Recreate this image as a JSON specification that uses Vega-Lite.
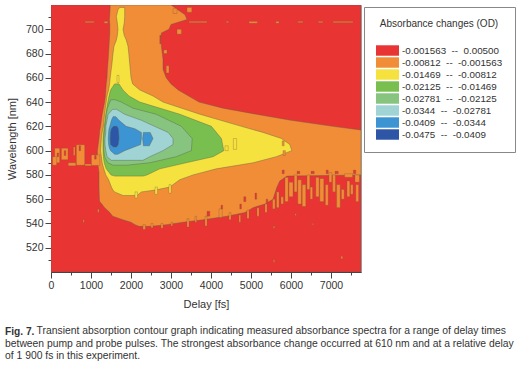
{
"$schema":"https://vega.github.io/schema/vega-lite/v6.json",
"width":310,"height":267,
"autosize":{"type":"none"},
"padding":{"left":51,"top":5,"right":160,"bottom":94},
"background":"white",
"title":{"text":"Fig. 7.","anchor":"start","frame":"group","orient":"bottom","dx":-46,"offset":17,"font":"Liberation Sans","fontSize":10.2,"fontWeight":"bold","color":"#333",
"subtitle":["\u200b\u00a0\u00a0\u00a0\u00a0\u00a0\u00a0\u00a0\u00a0\u00a0\u00a0\u00a0Transient absorption contour graph indicating measured absorbance spectra for a range of delay times","between pump and probe pulses. The strongest absorbance change occurred at 610 nm and at a relative delay","of 1 900 fs in this experiment."],
"subtitleFont":"Liberation Sans","subtitleFontSize":10.35,"subtitleColor":"#333","subtitlePadding":-10.5,"subtitleLineHeight":12.6},
"datasets":{"classes":[
{"k":1,"range":"-0.001563\u00a0\u00a0--\u00a0\u00a00.00500"},
{"k":2,"range":"-0.00812\u00a0\u00a0--\u00a0\u00a0-0.001563"},
{"k":3,"range":"-0.01469\u00a0\u00a0--\u00a0\u00a0-0.00812"},
{"k":4,"range":"-0.02125\u00a0\u00a0--\u00a0\u00a0-0.01469"},
{"k":5,"range":"-0.02781\u00a0\u00a0--\u00a0\u00a0-0.02125"},
{"k":6,"range":"-0.0344\u00a0\u00a0--\u00a0\u00a0-0.02781"},
{"k":7,"range":"-0.0409\u00a0\u00a0--\u00a0\u00a0-0.0344"},
{"k":8,"range":"-0.0475\u00a0\u00a0--\u00a0\u00a0-0.0409"}]},
"encoding":{
"color":{"field":"range","type":"nominal","scale":{"domain":["-0.001563\u00a0\u00a0--\u00a0\u00a00.00500","-0.00812\u00a0\u00a0--\u00a0\u00a0-0.001563","-0.01469\u00a0\u00a0--\u00a0\u00a0-0.00812","-0.02125\u00a0\u00a0--\u00a0\u00a0-0.01469","-0.02781\u00a0\u00a0--\u00a0\u00a0-0.02125","-0.0344\u00a0\u00a0--\u00a0\u00a0-0.02781","-0.0409\u00a0\u00a0--\u00a0\u00a0-0.0344","-0.0475\u00a0\u00a0--\u00a0\u00a0-0.0409"],"range":["#e93434","#f18d36","#f5e23f","#79bf4f","#86c47f","#9fd3d4","#3c95d2","#2e56a6"]},
"legend":{"orient":"none","legendX":313,"legendY":2,"title":"Absorbance changes (OD)","titleFont":"Liberation Sans","titleFontSize":10,"titleFontWeight":"normal","titleColor":"#333","titlePadding":16,"titleAnchor":"middle","labelFont":"Liberation Sans","labelFontSize":9.8,"labelColor":"#333","labelLimit":200,"labelOffset":15,"symbolType":"M-1,-0.95H3.18V0.95H-1Z","symbolSize":121,"symbolStrokeWidth":0,"rowPadding":1,"fillColor":"white","strokeColor":"#888","padding":12,"symbolOpacity":1}}
},
"resolve":{"axis":{"x":"independent","y":"independent"}},
"layer":[
{"data":{"values":[
{"k":1,"p":"bg","w":500,"a":0,"b":7750},{"k":1,"p":"bg","w":720,"a":0,"b":7750},
{"k":2,"p":"m","w":720,"a":1480,"b":3000},{"k":2,"p":"m","w":712,"a":1470,"b":3350},{"k":2,"p":"m","w":708,"a":1460,"b":3400},{"k":2,"p":"m","w":704,"a":1470,"b":3000},{"k":2,"p":"m","w":700,"a":1470,"b":2950},{"k":2,"p":"m","w":697,"a":1470,"b":2760},{"k":2,"p":"m","w":686,"a":1450,"b":2760},{"k":2,"p":"m","w":675,"a":1430,"b":2800},{"k":2,"p":"m","w":667,"a":1410,"b":2800},{"k":2,"p":"m","w":660,"a":1400,"b":2880},{"k":2,"p":"m","w":655,"a":1380,"b":3000},{"k":2,"p":"m","w":650,"a":1370,"b":3180},{"k":2,"p":"m","w":645,"a":1360,"b":3440},{"k":2,"p":"m","w":640,"a":1340,"b":3700},{"k":2,"p":"m","w":635,"a":1310,"b":4300},{"k":2,"p":"m","w":630,"a":1280,"b":5130},{"k":2,"p":"m","w":625,"a":1260,"b":6000},{"k":2,"p":"m","w":620,"a":1240,"b":7050},{"k":2,"p":"m","w":617,"a":1220,"b":7750},{"k":2,"p":"m","w":610,"a":1200,"b":7750},{"k":2,"p":"m","w":600,"a":1160,"b":7750},{"k":2,"p":"m","w":590,"a":1160,"b":7750},{"k":2,"p":"m","w":587,"a":1180,"b":7750},{"k":2,"p":"m","w":582,"a":1200,"b":7750},{"k":2,"p":"m","w":580,"a":1200,"b":7750},{"k":2,"p":"m","w":579,"a":1200,"b":5900},{"k":2,"p":"m","w":575,"a":1200,"b":5720},{"k":2,"p":"m","w":570,"a":1200,"b":5650},{"k":2,"p":"m","w":565,"a":1205,"b":5600},{"k":2,"p":"m","w":560,"a":1210,"b":5550},{"k":2,"p":"m","w":558,"a":1217,"b":5450},{"k":2,"p":"m","w":556,"a":1270,"b":5350},{"k":2,"p":"m","w":553,"a":1342,"b":5050},{"k":2,"p":"m","w":549,"a":1470,"b":4850},{"k":2,"p":"m","w":546,"a":1542,"b":4400},{"k":2,"p":"m","w":543,"a":1796,"b":3800},{"k":2,"p":"m","w":541,"a":2000,"b":3300},{"k":2,"p":"m","w":539,"a":2100,"b":2890},{"k":2,"p":"m","w":537.6,"a":2200,"b":2500},
{"k":3,"p":"m","w":718,"a":1720,"b":1840},{"k":3,"p":"m","w":716,"a":1675,"b":1842},{"k":3,"p":"m","w":710.6,"a":1634,"b":1842},{"k":3,"p":"m","w":705,"a":1660,"b":1830},{"k":3,"p":"m","w":700,"a":1675,"b":1800},{"k":3,"p":"m","w":695,"a":1660,"b":1830},{"k":3,"p":"m","w":691,"a":1634,"b":1883},{"k":3,"p":"m","w":686,"a":1575,"b":1925},{"k":3,"p":"m","w":680,"a":1550,"b":1945},{"k":3,"p":"m","w":672,"a":1525,"b":1967},{"k":3,"p":"m","w":660,"a":1480,"b":2000},{"k":3,"p":"m","w":655,"a":1465,"b":2040},{"k":3,"p":"m","w":650,"a":1440,"b":2220},{"k":3,"p":"m","w":645,"a":1400,"b":2550},{"k":3,"p":"m","w":640,"a":1380,"b":2800},{"k":3,"p":"m","w":630,"a":1340,"b":3720},{"k":3,"p":"m","w":620,"a":1310,"b":4760},{"k":3,"p":"m","w":615,"a":1280,"b":5300},{"k":3,"p":"m","w":610,"a":1260,"b":5760},{"k":3,"p":"m","w":605,"a":1250,"b":5970},{"k":3,"p":"m","w":600,"a":1240,"b":6020},{"k":3,"p":"m","w":595,"a":1260,"b":5630},{"k":3,"p":"m","w":590,"a":1280,"b":5050},{"k":3,"p":"m","w":585,"a":1320,"b":4130},{"k":3,"p":"m","w":580,"a":1370,"b":3550},{"k":3,"p":"m","w":576,"a":1440,"b":3217},{"k":3,"p":"m","w":570,"a":1510,"b":2970},{"k":3,"p":"m","w":567.5,"a":1550,"b":2600},{"k":3,"p":"m","w":566,"a":1590,"b":2259},{"k":3,"p":"m","w":563,"a":1800,"b":2150},
{"k":4,"p":"m","w":655,"a":1590,"b":1700},{"k":4,"p":"m","w":650,"a":1490,"b":1800},{"k":4,"p":"m","w":645,"a":1450,"b":1950},{"k":4,"p":"m","w":640,"a":1420,"b":2220},{"k":4,"p":"m","w":630,"a":1370,"b":3220},{"k":4,"p":"m","w":620,"a":1330,"b":4010},{"k":4,"p":"m","w":610,"a":1300,"b":4260},{"k":4,"p":"m","w":600,"a":1300,"b":4320},{"k":4,"p":"m","w":595,"a":1310,"b":4050},{"k":4,"p":"m","w":590,"a":1330,"b":3380},{"k":4,"p":"m","w":585,"a":1380,"b":2720},{"k":4,"p":"m","w":580,"a":1500,"b":2400},{"k":4,"p":"m","w":579,"a":1600,"b":2300},
{"k":5,"p":"m","w":642,"a":1500,"b":1600},{"k":5,"p":"m","w":640,"a":1470,"b":1760},{"k":5,"p":"m","w":635,"a":1410,"b":2050},{"k":5,"p":"m","w":630,"a":1380,"b":2630},{"k":5,"p":"m","w":620,"a":1350,"b":3260},{"k":5,"p":"m","w":610,"a":1320,"b":3530},{"k":5,"p":"m","w":600,"a":1320,"b":3510},{"k":5,"p":"m","w":595,"a":1340,"b":3130},{"k":5,"p":"m","w":590,"a":1420,"b":2470},{"k":5,"p":"m","w":588,"a":1550,"b":1900},
{"k":6,"p":"m","w":634,"a":1540,"b":1640},{"k":6,"p":"m","w":630,"a":1430,"b":1840},{"k":6,"p":"m","w":625,"a":1400,"b":2260},{"k":6,"p":"m","w":620,"a":1370,"b":2590},{"k":6,"p":"m","w":615,"a":1370,"b":2930},{"k":6,"p":"m","w":610,"a":1350,"b":3050},{"k":6,"p":"m","w":605,"a":1350,"b":3050},{"k":6,"p":"m","w":600,"a":1370,"b":2800},{"k":6,"p":"m","w":595,"a":1400,"b":2470},{"k":6,"p":"m","w":592,"a":1510,"b":2300},
{"k":7,"p":"m","w":628,"a":1550,"b":1620},{"k":7,"p":"m","w":625,"a":1510,"b":1700},{"k":7,"p":"m","w":620,"a":1470,"b":1880},{"k":7,"p":"m","w":618,"a":1450,"b":2100},{"k":7,"p":"m","w":615,"a":1440,"b":2260},{"k":7,"p":"m","w":610,"a":1430,"b":2260},{"k":7,"p":"m","w":605,"a":1440,"b":2240},{"k":7,"p":"m","w":602,"a":1460,"b":2000},{"k":7,"p":"m","w":600,"a":1490,"b":1840},{"k":7,"p":"m","w":597,"a":1590,"b":1670},
{"k":7,"p":"b","w":615,"a":2310,"b":2480},{"k":7,"p":"b","w":610,"a":2290,"b":2550},{"k":7,"p":"b","w":604,"a":2310,"b":2460},
{"k":8,"p":"m","w":620,"a":1560,"b":1650},{"k":8,"p":"m","w":618,"a":1510,"b":1680},{"k":8,"p":"m","w":615,"a":1490,"b":1690},{"k":8,"p":"m","w":610,"a":1480,"b":1700},{"k":8,"p":"m","w":605,"a":1490,"b":1680},{"k":8,"p":"m","w":603,"a":1560,"b":1640}
]},
"transform":[{"lookup":"k","from":{"data":{"name":"classes"},"key":"k","fields":["range"]}}],
"mark":{"type":"area","orient":"horizontal","stroke":"#5a5a4a","strokeWidth":0.4,"clip":true},
"encoding":{
"y":{"field":"w","type":"quantitative","scale":{"domain":[500,720],"nice":false},"axis":{"orient":"left","title":"Wavelength [nm]","titleFont":"Liberation Sans","titleFontSize":11,"titleFontWeight":"normal","titleColor":"#333","titlePadding":8,"labelFont":"Liberation Sans","labelFontSize":10.5,"labelColor":"#333","grid":false,"values":[520,540,560,580,600,620,640,660,680,700],"tickColor":"#444","domainColor":"#444","tickSize":6}},
"x":{"field":"a","type":"quantitative","scale":{"domain":[0,7750],"nice":false},"axis":{"orient":"bottom","title":"Delay [fs]","titleFont":"Liberation Sans","titleFontSize":11,"titleFontWeight":"normal","titleColor":"#333","titlePadding":8,"labelFont":"Liberation Sans","labelFontSize":10.5,"labelColor":"#333","labelFlush":false,"grid":false,"values":[0,1000,2000,3000,4000,5000,6000,7000],"format":"d","tickColor":"#444","domainColor":"#444","tickSize":6}},
"x2":{"field":"b"},
"detail":{"field":"p"}
}},
{"data":{"values":[
{"k":2,"a":93,"b":218,"w":602,"w2":590},{"k":2,"a":260,"b":426,"w":602,"w2":592.5},{"k":2,"a":40,"b":140,"w":595,"w2":588},{"k":2,"a":634,"b":843,"w":604.8,"w2":588},{"k":2,"a":430,"b":620,"w":590,"w2":587.5},{"k":2,"a":1010,"b":1218,"w":596.5,"w2":587.8},{"k":2,"a":850,"b":1010,"w":589,"w2":587.5},{"k":2,"a":560,"b":600,"w":603,"w2":596},
{"k":1,"a":150,"b":190,"w":598,"w2":595},{"k":1,"a":330,"b":370,"w":600,"w2":596},{"k":1,"a":700,"b":740,"w":604,"w2":600},{"k":1,"a":1090,"b":1130,"w":596,"w2":593},
{"k":1,"a":5780,"b":5830,"w":584,"w2":581},{"k":1,"a":6150,"b":6220,"w":583,"w2":581},{"k":1,"a":6500,"b":6580,"w":583,"w2":581},{"k":1,"a":6880,"b":6930,"w":584,"w2":581},{"k":1,"a":7100,"b":7180,"w":583,"w2":581},{"k":1,"a":7560,"b":7620,"w":584,"w2":581},
{"k":2,"a":5850,"b":5930,"w":578,"w2":558},{"k":2,"a":5950,"b":6050,"w":574,"w2":562},{"k":2,"a":6080,"b":6150,"w":580,"w2":566},{"k":2,"a":6170,"b":6260,"w":576,"w2":556},{"k":2,"a":6280,"b":6370,"w":572,"w2":554},{"k":2,"a":6400,"b":6470,"w":580,"w2":568},{"k":2,"a":6480,"b":6540,"w":570,"w2":560},{"k":2,"a":6620,"b":6700,"w":578,"w2":562},{"k":2,"a":6720,"b":6820,"w":577,"w2":558},{"k":2,"a":6860,"b":6930,"w":572,"w2":555},{"k":2,"a":6950,"b":7020,"w":582,"w2":574},{"k":2,"a":7040,"b":7110,"w":580,"w2":566},{"k":2,"a":7140,"b":7230,"w":572,"w2":553},{"k":2,"a":7260,"b":7330,"w":568,"w2":560},{"k":2,"a":7340,"b":7540,"w":581,"w2":578},{"k":2,"a":7400,"b":7470,"w":575,"w2":562},{"k":2,"a":7490,"b":7550,"w":572,"w2":564},{"k":2,"a":7600,"b":7710,"w":580,"w2":574},{"k":2,"a":7620,"b":7690,"w":572,"w2":558},
{"k":2,"a":5540,"b":5600,"w":560,"w2":552},{"k":2,"a":5640,"b":5700,"w":566,"w2":553},{"k":2,"a":5750,"b":5810,"w":562,"w2":556},
{"k":2,"a":2300,"b":2360,"w":539,"w2":535},{"k":2,"a":2500,"b":2550,"w":540,"w2":536.5},{"k":2,"a":2750,"b":2800,"w":540,"w2":536},{"k":2,"a":3000,"b":3040,"w":541,"w2":538},{"k":2,"a":3400,"b":3450,"w":544,"w2":537},{"k":2,"a":3600,"b":3640,"w":546,"w2":541},{"k":2,"a":3850,"b":3900,"w":546,"w2":538},{"k":2,"a":4200,"b":4280,"w":552,"w2":545},{"k":2,"a":4450,"b":4500,"w":549,"w2":543},{"k":2,"a":4700,"b":4740,"w":547,"w2":541},{"k":2,"a":4900,"b":4950,"w":551,"w2":544},{"k":2,"a":5150,"b":5200,"w":553,"w2":546},{"k":2,"a":5350,"b":5400,"w":556,"w2":549},
{"k":1,"a":3900,"b":3970,"w":550,"w2":546},{"k":1,"a":4820,"b":4870,"w":562,"w2":558},{"k":1,"a":4250,"b":4290,"w":555,"w2":552},{"k":1,"a":5100,"b":5140,"w":565,"w2":560},{"k":1,"a":5380,"b":5420,"w":560,"w2":557},{"k":1,"a":4720,"b":4760,"w":556,"w2":552},
{"k":2,"a":850,"b":1080,"w":706.5,"w2":705.5},{"k":2,"a":1330,"b":1420,"w":706.5,"w2":705},{"k":2,"a":3450,"b":3900,"w":706.5,"w2":705.5},{"k":2,"a":4380,"b":4440,"w":706.5,"w2":705.5},{"k":2,"a":4950,"b":5160,"w":706.5,"w2":705},{"k":2,"a":5620,"b":5700,"w":706.5,"w2":705},{"k":2,"a":6170,"b":6300,"w":706.5,"w2":705.5},{"k":2,"a":6680,"b":6800,"w":706.5,"w2":705.5},{"k":2,"a":7050,"b":7550,"w":706.5,"w2":705.5},
{"k":2,"a":3050,"b":3150,"w":717,"w2":713},{"k":2,"a":3400,"b":3520,"w":718,"w2":714},{"k":2,"a":3150,"b":3260,"w":700,"w2":696},{"k":1,"a":2720,"b":2760,"w":695,"w2":688},{"k":2,"a":2820,"b":2900,"w":683,"w2":680},{"k":2,"a":2880,"b":2950,"w":670,"w2":664},
{"k":3,"a":2100,"b":2160,"w":566,"w2":561},{"k":3,"a":2600,"b":2660,"w":570,"w2":564},{"k":3,"a":2950,"b":3000,"w":572,"w2":565},
{"k":3,"a":4560,"b":4640,"w":610,"w2":601},{"k":3,"a":4350,"b":4430,"w":604,"w2":600},{"k":2,"a":5780,"b":5830,"w":608,"w2":604},{"k":2,"a":5800,"b":5860,"w":600,"w2":596},{"k":3,"a":1650,"b":1700,"w":662,"w2":656},
{"k":2,"a":6100,"b":6130,"w":548,"w2":546.5},{"k":2,"a":6530,"b":6560,"w":540,"w2":539},{"k":2,"a":5560,"b":5590,"w":538,"w2":536},{"k":2,"a":7250,"b":7290,"w":513,"w2":511},{"k":2,"a":5560,"b":5590,"w":510,"w2":508},{"k":2,"a":800,"b":830,"w":543,"w2":541},{"k":2,"a":1170,"b":1200,"w":552,"w2":549}
]},
"transform":[{"lookup":"k","from":{"data":{"name":"classes"},"key":"k","fields":["range"]}}],
"mark":{"type":"rect","clip":true,"stroke":"#7a5a3a","strokeWidth":0.3},
"encoding":{
"x":{"field":"a","type":"quantitative","axis":{"orient":"bottom","title":null,"labels":false,"domain":false,"grid":false,"tickColor":"#444","tickSize":3,"values":[500,1500,2500,3500,4500,5500,6500,7500]}},
"x2":{"field":"b"},
"y":{"field":"w","type":"quantitative","axis":{"orient":"left","title":null,"labels":false,"domain":false,"grid":false,"tickColor":"#444","tickSize":3,"values":[510,530,550,570,590,610,630,650,670,690,710]}},
"y2":{"field":"w2"}
}}
],
"config":{"view":{"stroke":"#999"}}
}
